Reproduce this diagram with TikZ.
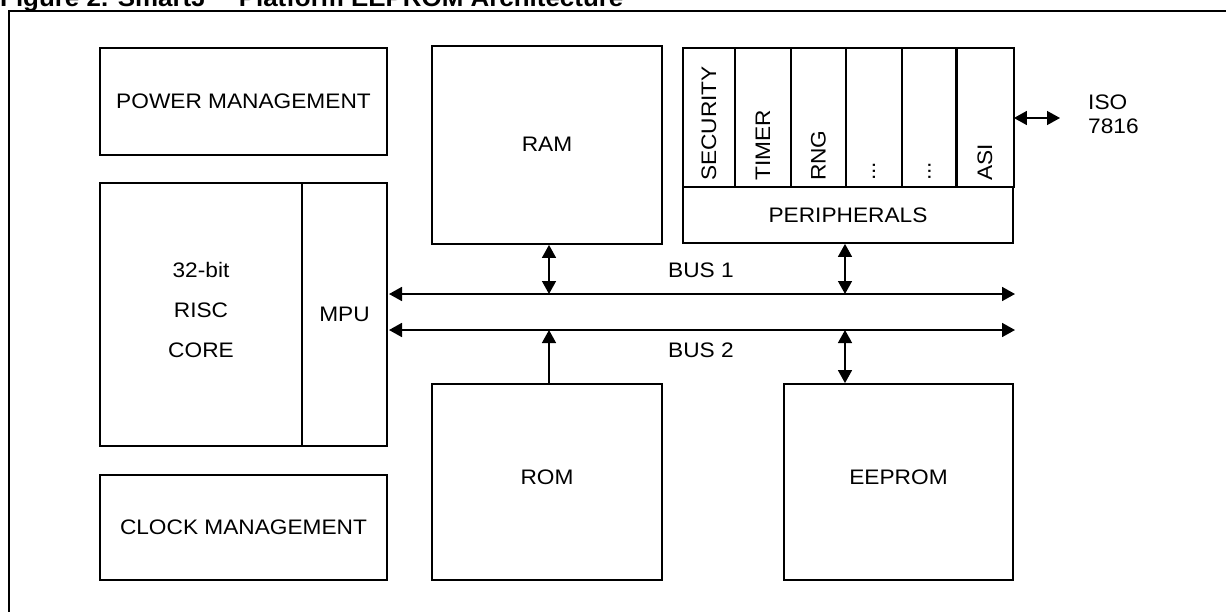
\documentclass[tikz,border=0pt]{standalone}
\usepackage{fontspec}
\setmainfont{Liberation Sans}[FakeStretch=1.08]
\usetikzlibrary{arrows.meta}
\begin{document}
\begin{tikzpicture}[x=1pt,y=-1pt,
  blk/.style={draw, line width=1.8pt, inner sep=0pt, font=\fontsize{21}{24}\selectfont},
  txt/.style={inner sep=0pt, font=\fontsize{21}{24}\selectfont},
  vtxt/.style={inner sep=0pt, font=\fontsize{21}{24}\selectfont, rotate=90, anchor=west},
  bus/.style={line width=1.8pt, {Triangle[length=13pt,width=14pt]}-{Triangle[length=13pt,width=14pt]}},
  one/.style={line width=1.4pt, -{Triangle[length=13pt,width=14pt]}},
  dbl/.style={line width=1.4pt, {Triangle[length=13pt,width=14pt]}-{Triangle[length=13pt,width=14pt]}}]
\clip (0,0) rectangle (1226,611);
\useasboundingbox (0,0) rectangle (1226,611);
% title and frame
\node[anchor=base west, inner sep=0pt, font=\bfseries\fontsize{24}{28}\selectfont] (title) at (0,6) {Figure 2. SmartJ™ Platform EEPROM Architecture};
\draw[line width=2.6pt] (9,640) -- (9,11) -- (1240,11);
% left column
\node[blk, minimum width=287pt, minimum height=107pt] (pwr) at (243.5,101.5) {POWER MANAGEMENT};
\node[blk, minimum width=202pt, minimum height=263pt] (core) at (201,314.5) {};
\node[txt, align=center] (coretxt) at (201,310) {32-bit\\[16pt]RISC\\[16pt]CORE};
\node[blk, minimum width=85pt, minimum height=263pt] (mpu) at (344.5,314.5) {MPU};
\node[blk, minimum width=287pt, minimum height=105pt] (clk) at (243.5,527.5) {CLOCK MANAGEMENT};
% memories
\node[blk, minimum width=230pt, minimum height=198pt] (ram) at (547,145) {};
\node[txt] (ramtxt) at (547,144) {RAM};
\node[blk, minimum width=230pt, minimum height=196pt] (rom) at (547,482) {};
\node[txt] (romtxt) at (547,477) {ROM};
\node[blk, minimum width=229pt, minimum height=196pt] (eep) at (898.5,482) {};
\node[txt] (eeptxt) at (898.5,477) {EEPROM};
% peripherals
\node[blk, minimum width=330pt, minimum height=56pt] (peri) at (848,215) {PERIPHERALS};
\node[blk, minimum width=52pt, minimum height=139pt] (c1) at (709,117.5) {};
\node[blk, minimum width=56pt, minimum height=139pt] (c2) at (763,117.5) {};
\node[blk, minimum width=55pt, minimum height=139pt] (c3) at (818.5,117.5) {};
\node[blk, minimum width=56pt, minimum height=139pt] (c4) at (874,117.5) {};
\node[blk, minimum width=55pt, minimum height=139pt] (c5) at (929.5,117.5) {};
\node[blk, minimum width=58pt, minimum height=139pt] (c6) at (985,117.5) {};
\node[vtxt] (t1) at (709,181) {SECURITY};
\node[vtxt] (t2) at (763,181) {TIMER};
\node[vtxt] (t3) at (818.5,181) {RNG};
\node[vtxt] (t4) at (874,181) {...};
\node[vtxt] (t5) at (929.5,181) {...};
\node[vtxt] (t6) at (985,181) {ASI};
% ISO
\node[txt, align=left, anchor=west] (iso) at (1088,114) {ISO\\7816};
\coordinate (isoy) at (0,118);
\draw[dbl] (peri.east |- isoy) -- ([xshift=-28pt]iso.west |- isoy);
% buses
\coordinate (b1l) at (389,294);
\coordinate (b1r) at (1015,294);
\coordinate (b2l) at (389,330);
\coordinate (b2r) at (1015,330);
\draw[bus] (b1l) -- (b1r);
\draw[bus] (b2l) -- (b2r);
\node[txt] (bus1) at (701,270) {BUS 1};
\node[txt] (bus2) at (701,350) {BUS 2};
\coordinate (px) at (845,0);
\coordinate (mx) at (549,0);
\draw[dbl] (mx |- ram.south) -- (mx |- b1l);
\draw[dbl] (px |- peri.south) -- (px |- b1l);
\draw[one] (mx |- rom.north) -- (mx |- b2l);
\draw[dbl] (px |- b2l) -- (px |- eep.north);
\end{tikzpicture}
\end{document}
